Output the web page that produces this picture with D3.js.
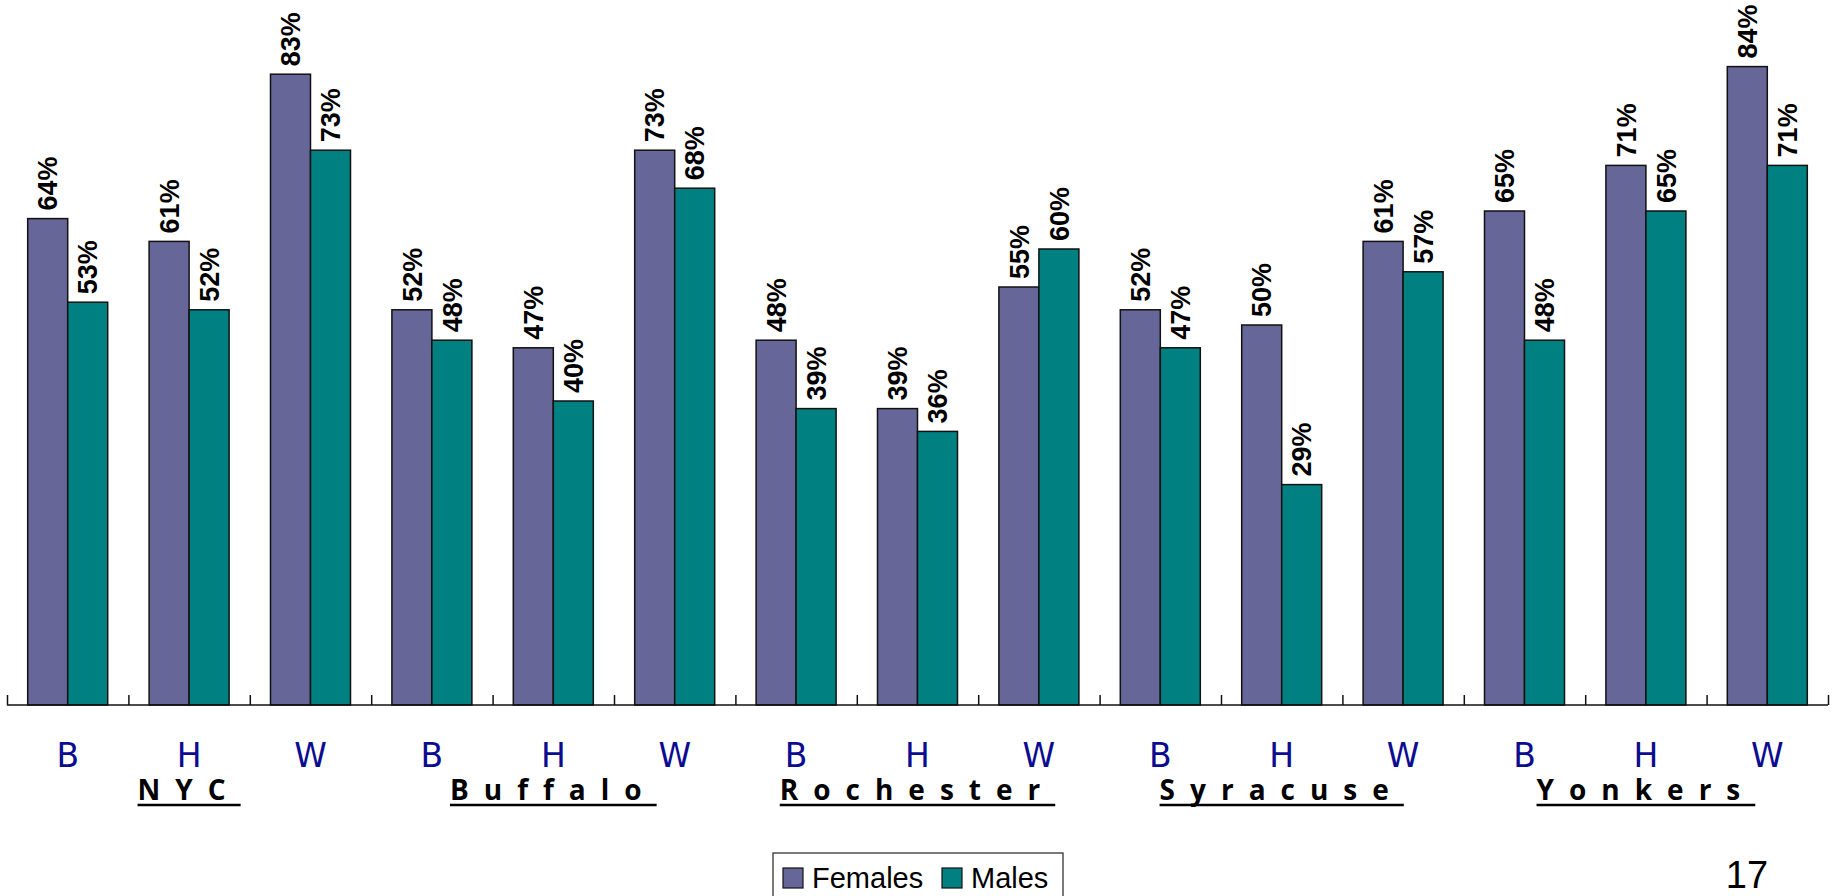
<!DOCTYPE html>
<html>
<head>
<meta charset="utf-8">
<script src="https://cdn.jsdelivr.net/npm/d3@7"></script>
<style>
  body { margin: 0; background: #fff; }
  svg { display: block; }
</style>
</head>
<body>
<div class="chartContainer"></div>
<script>
// values
const cities = ["NYC", "Buffalo", "Rochester", "Syracuse", "Yonkers"]
const groups = ["B", "H", "W"]
const seriesNames = ["Females", "Males"]
const females = [64, 61, 83, 52, 47, 73, 48, 39, 55, 52, 50, 61, 65, 71, 84]
const males   = [53, 52, 73, 48, 40, 68, 39, 36, 60, 47, 29, 57, 48, 65, 71]
const pageNumber = "17"

document.addEventListener("DOMContentLoaded", ()=>{
    const W = 1835, H = 896
    const colors = {Females: "#666699", Males: "#008080"}

    // one row per B/H/W column
    const rows = []
    cities.forEach((c, ci)=>{
        groups.forEach((g, gi)=>{
            const i = ci*3 + gi
            rows.push({key: i, city: c, group: g, Females: females[i], Males: males[i]})
        })
    })

    let svg = d3.select(".chartContainer").append("svg")
                .attr("width", W)
                .attr("height", H)

    const x0 = d3.scaleBand()
                 .domain(rows.map(d=>d.key))
                 .range([7, 1828])
                 .paddingInner(0.341)
                 .paddingOuter(0.1705)
    const x1 = d3.scaleBand().domain(seriesNames).range([0, x0.bandwidth()])
    const y = d3.scaleLinear().domain([0, 100]).range([705, -55])

    const g = svg.selectAll("g.grp")
                 .data(rows)
                 .enter()
                 .append("g")
                 .attr("class", "grp")
                 .attr("transform", d=>"translate(" + x0(d.key) + ",0)")

    g.selectAll("rect")
     .data(d=>seriesNames.map(s=>({s: s, v: d[s]})))
     .enter()
     .append("rect")
     .attr("x", d=>x1(d.s))
     .attr("y", d=>y(d.v))
     .attr("width", x1.bandwidth())
     .attr("height", d=>y(0) - y(d.v))
     .attr("fill", d=>colors[d.s])
     .attr("stroke", "#111")
     .attr("stroke-width", 1.5)

    // rotated value labels
    const fs = 27
    g.selectAll("text.val")
     .data(d=>seriesNames.map(s=>({s: s, v: d[s]})))
     .enter()
     .append("text")
     .attr("class", "val")
     .attr("transform", d=>"translate(" + (x1(d.s) + x1.bandwidth()/2 + fs*0.36) + "," + (y(d.v) - 8) + ") rotate(-90)")
     .attr("font-family", "'Liberation Sans', Arial, sans-serif")
     .attr("font-weight", "bold")
     .attr("font-size", fs)
     .attr("fill", "#000")
     .text(d=>d.v + "%")

    // axis: baseline with upward ticks at column boundaries
    const axis = d3.axisTop(d3.scaleLinear().domain([0, rows.length]).range([7, 1828]))
                   .ticks(rows.length)
                   .tickSize(10)
                   .tickFormat("")
    const ax = svg.append("g").attr("transform", "translate(0," + y(0) + ")").call(axis)
    ax.select(".domain").attr("stroke", "#111").attr("stroke-width", 1.5).attr("d", "M7,0H1828")
    ax.selectAll(".tick line").attr("stroke", "#111").attr("stroke-width", 1.5)

    // B / H / W labels
    svg.selectAll("text.grpLabel")
       .data(rows)
       .enter()
       .append("text")
       .attr("class", "grpLabel")
       .attr("x", d=>x0(d.key) + x0.bandwidth()/2)
       .attr("y", 767)
       .attr("text-anchor", "middle")
       .attr("font-family", "'DejaVu Sans', Verdana, sans-serif")
       .attr("font-size", 33)
       .attr("fill", "#0c0c90")
       .text(d=>d.group)

    // city names, spaced out and underlined, under the H column
    cities.forEach((c, ci)=>{
        const mid = x0(ci*3 + 1) + x0.bandwidth()/2
        const t = svg.append("text")
                     .attr("y", 800)
                     .attr("font-family", "'Open Sans', Lato, sans-serif")
                     .attr("font-weight", "bold")
                     .attr("font-size", 28)
                     .attr("letter-spacing", "15px")
                     .attr("fill", "#000")
                     .text(c)
        const len = t.node().getComputedTextLength()
        const left = mid - len/2
        t.attr("x", left)
        svg.append("line")
           .attr("x1", left).attr("x2", left + len)
           .attr("y1", 805).attr("y2", 805)
           .attr("stroke", "#000")
           .attr("stroke-width", 2.5)
    })

    // legend
    const lg = svg.append("g").attr("transform", "translate(773,853)")
    lg.append("rect")
      .attr("width", 290).attr("height", 60)
      .attr("fill", "#fff")
      .attr("stroke", "#222")
      .attr("stroke-width", 1.2)
    const items = [{s: "Females", x: 10}, {s: "Males", x: 169}]
    items.forEach(it=>{
        lg.append("rect")
          .attr("x", it.x).attr("y", 15)
          .attr("width", 20).attr("height", 20)
          .attr("fill", colors[it.s])
          .attr("stroke", "#111")
          .attr("stroke-width", 1.2)
        lg.append("text")
          .attr("x", it.x + 29).attr("y", 35)
          .attr("font-family", "'Liberation Sans', Arial, sans-serif")
          .attr("font-size", 29)
          .attr("fill", "#000")
          .text(it.s)
    })

    svg.append("text")
       .attr("x", 1747).attr("y", 888)
       .attr("text-anchor", "middle")
       .attr("font-family", "'Liberation Sans', Arial, sans-serif")
       .attr("font-size", 38)
       .attr("fill", "#000")
       .text(pageNumber)
})
</script>
</body>
</html>
